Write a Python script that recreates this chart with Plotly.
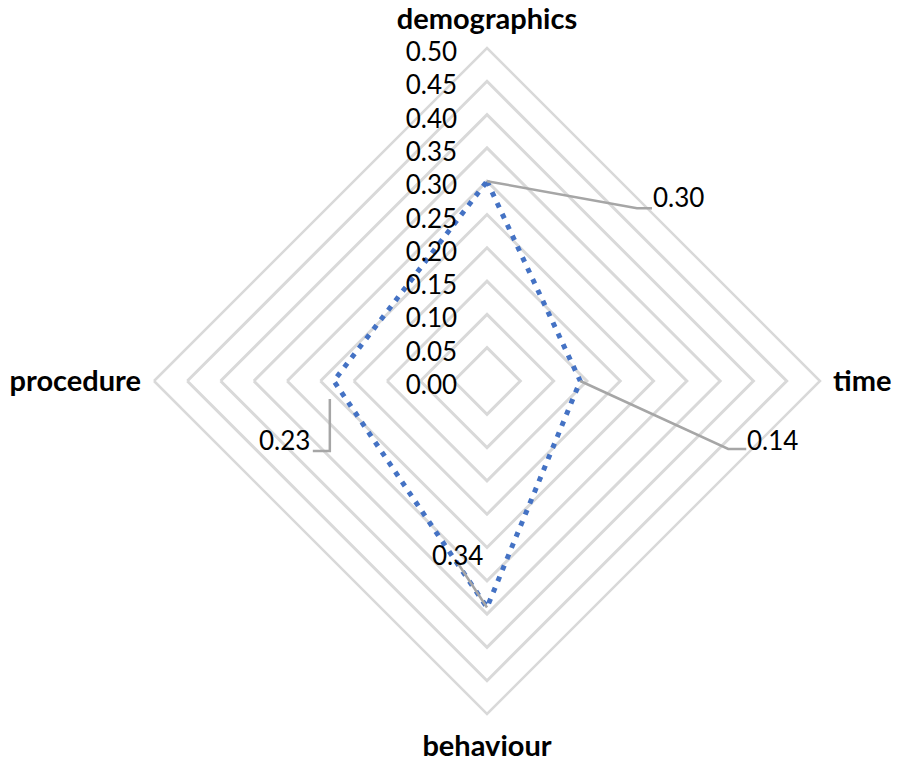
import plotly.graph_objects as go

# ---- data ----
categories = ["demographics", "time", "behaviour", "procedure"]
values = [0.30, 0.14, 0.34, 0.23]
radial_max = 0.50
radial_step = 0.05

# ---- geometry / style ----
W, H = 904, 768
CX, CY, R = 487, 381, 333          # centre and outer radius in pixels
FONT = "Lato"
GRID = "#D9D9D9"
LEADER = "#A6A6A6"
BLUE = "#4472C4"

def to_paper(px, py):
    return px / W, 1 - py / H

fig = go.Figure()
fig.add_trace(go.Scatterpolar(
    r=values + values[:1],
    theta=categories + categories[:1],
    mode="lines",
    line=dict(color=BLUE, width=5, dash="5px,7px"),
    hoverinfo="skip",
    showlegend=False,
))

x0, y0 = (CX - R) / W, 1 - (CY + R) / H
x1, y1 = (CX + R) / W, 1 - (CY - R) / H

fig.update_layout(
    width=W, height=H,
    margin=dict(l=0, r=0, t=0, b=0),
    paper_bgcolor="white",
    plot_bgcolor="white",
    font=dict(family=FONT, color="black"),
    polar=dict(
        domain=dict(x=[x0, x1], y=[y0, y1]),
        bgcolor="white",
        gridshape="linear",
        radialaxis=dict(
            range=[0, radial_max],
            dtick=radial_step,
            tick0=0,
            tickformat=".2f",
            angle=90,
            side="counterclockwise",
            showline=False,
            showgrid=True,
            gridcolor=GRID,
            gridwidth=2.5,
            ticks="outside",
            ticklen=6,
            tickcolor="rgba(0,0,0,0)",
            tickfont=dict(size=26, family=FONT, color="black"),
        ),
        angularaxis=dict(
            rotation=90,
            direction="clockwise",
            showgrid=False,
            showline=True,
            linecolor=GRID,
            linewidth=2.5,
            ticks="outside",
            ticklen=6,
            tickcolor="rgba(0,0,0,0)",
            tickfont=dict(size=29, family=FONT, color="black", weight="bold"),
        ),
    ),
)

# ---- data labels with leader lines ----
angles = {"demographics": (0, -1), "time": (1, 0), "behaviour": (0, 1), "procedure": (-1, 0)}
label_style = {
    "demographics": dict(path=[(0, 0), (150, 27), (165, 27)], text=(164, 16), anchor="left"),
    "time": dict(path=[(0, 0), (148, 68), (166, 68)], text=(165, 59), anchor="left"),
    "behaviour": dict(path=[(0, 0), (-29, -44)], text=(-29, -52), anchor="center"),
    "procedure": dict(path=[(-4, 18), (-4, 70), (-21, 70)], text=(-22, 59), anchor="right"),
}

for cat, val in zip(categories, values):
    ux, uy = angles[cat]
    px = CX + ux * val / radial_max * R
    py = CY + uy * val / radial_max * R
    st = label_style[cat]
    pts = [to_paper(px + dx, py + dy) for dx, dy in st["path"]]
    d = "M " + " L ".join(f"{a:.5f},{b:.5f}" for a, b in pts)
    fig.add_shape(type="path", path=d, xref="paper", yref="paper",
                  line=dict(color=LEADER, width=2.5), layer="above")
    tx, ty = to_paper(px + st["text"][0], py + st["text"][1])
    fig.add_annotation(x=tx, y=ty, xref="paper", yref="paper",
                       text=f"{val:.2f}", showarrow=False,
                       xanchor=st["anchor"], yanchor="middle",
                       font=dict(size=26, family=FONT, color="black"))

fig.write_html("out.html", config={"displayModeBar": False},
               post_script="document.body.style.margin='0px';")
